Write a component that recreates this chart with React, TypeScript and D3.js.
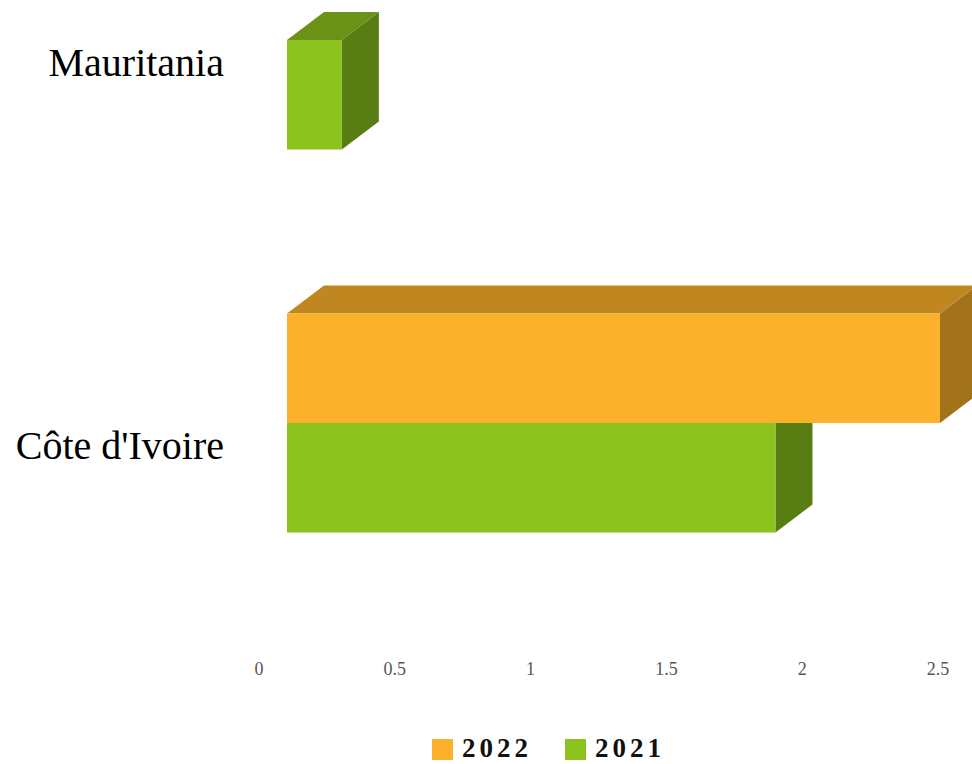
import React from "react";
import * as d3 from "d3";

const categories = ["Mauritania", "Côte d'Ivoire"];
const seriesNames = ["2022", "2021"];
const values2022: (number | null)[] = [null, 2.5];
const values2021: (number | null)[] = [0.21, 1.87];
const tickValues = [0, 0.5, 1, 1.5, 2, 2.5];

const W = 972;
const H = 764;

const colors: Record<string, { front: string; top: string; side: string }> = {
  "2022": { front: "#FCB12D", top: "#C0861F", side: "#A2731B" },
  "2021": { front: "#8BC21E", top: "#6A9216", side: "#587E13" },
};

export default function App() {
  const depthX = 37;
  const depthY = -28;
  const x = d3.scaleLinear().domain([0, 2.5]).range([287, 940]);
  const xTicks = d3.scaleLinear().domain([0, 2.5]).range([259, 938]);
  const y = d3.scaleBand<string>().domain(categories).range([-151.5, 614.5]).padding(0);
  const inner = d3.scaleBand<string>().domain(seriesNames).range([0, 219]);

  const bars: { key: string; s: string; x0: number; x1: number; y0: number; y1: number }[] = [];
  const drawOrder = ["2021", "2022"];
  drawOrder.forEach((s) => {
    const vals = s === "2022" ? values2022 : values2021;
    categories.forEach((c, i) => {
      const v = vals[i];
      if (v == null) return;
      const center = (y(c) as number) + y.bandwidth() / 2;
      const y0 = center - 109.5 + (inner(s) as number);
      bars.push({ key: s + c, s, x0: x(0), x1: x(v), y0, y1: y0 + inner.bandwidth() });
    });
  });

  return (
    <svg
      width={W}
      height={H}
      style={{ position: "absolute", left: 0, top: 0, background: "#fff" }}
    >
      {bars.map((b) => {
        const col = colors[b.s];
        const top = `M${b.x0},${b.y0} L${b.x1},${b.y0} L${b.x1 + depthX},${b.y0 + depthY} L${b.x0 + depthX},${b.y0 + depthY} Z`;
        const side = `M${b.x1},${b.y0} L${b.x1 + depthX},${b.y0 + depthY} L${b.x1 + depthX},${b.y1 + depthY} L${b.x1},${b.y1} Z`;
        return (
          <g key={b.key}>
            <path d={side} fill={col.side} />
            <path d={top} fill={col.top} />
            <rect x={b.x0} y={b.y0} width={b.x1 - b.x0} height={b.y1 - b.y0} fill={col.front} />
          </g>
        );
      })}
      {categories.map((c) => (
        <text
          key={c}
          x={224}
          y={(y(c) as number) + y.bandwidth() / 2 + 27}
          textAnchor="end"
          dominantBaseline="middle"
          fontFamily="Liberation Serif, serif"
          fontSize={40}
          fill="#000"
        >
          {c}
        </text>
      ))}
      {tickValues.map((t) => (
        <text
          key={t}
          x={xTicks(t)}
          y={675}
          textAnchor="middle"
          fontFamily="Liberation Serif, serif"
          fontSize={18}
          fill="#555"
        >
          {String(t)}
        </text>
      ))}
      {seriesNames.map((s, i) => {
        const lx = i === 0 ? 432 : 565;
        return (
          <g key={s}>
            <rect x={lx} y={739} width={21} height={21} fill={colors[s].front} />
            <text
              x={lx + 30}
              y={757}
              fontFamily="Liberation Serif, serif"
              fontWeight="bold"
              fontSize={27}
              letterSpacing={4}
              fill="#111"
            >
              {s}
            </text>
          </g>
        );
      })}
    </svg>
  );
}
